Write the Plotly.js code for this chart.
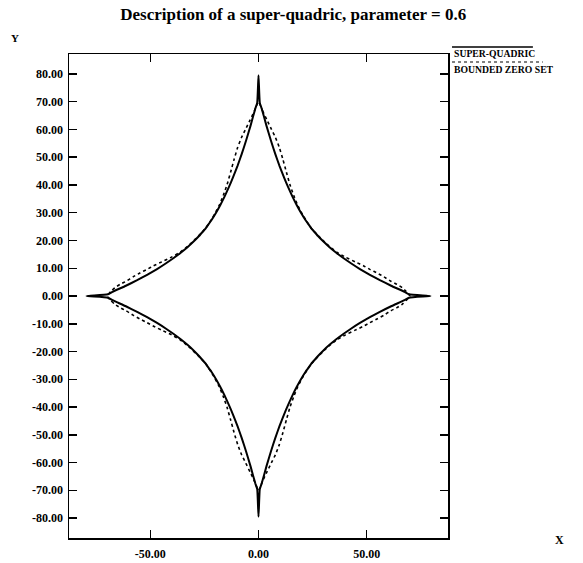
<!DOCTYPE html>
<html>
<head>
<meta charset="utf-8">
<script src="https://cdn.plot.ly/plotly-3.0.1.min.js"></script>
<style>
  html, body { margin: 0; padding: 0; background: #ffffff; }
  #chart { width: 583px; height: 563px; }
</style>
</head>
<body>
<div id="chart"></div>
<script>
// ---- Data ----
// Super-quadric (solid), traced clockwise starting at the top spike
const superX = [
  0, 0.6, 1.5, 3.7, 5.7, 7.7, 9.7, 11.7, 13.7, 15.7, 17.7, 19.7, 21.7, 23.7, 24.4,
  25.2, 27.4, 29.9, 32.7, 35.8, 39.2, 42.9, 46.9, 51.3, 56.1, 61.3, 67.5, 69.6, 79.5,
  69.6, 67.5, 61.3, 56.1, 51.3, 46.9, 42.9, 39.2, 35.8, 32.7, 29.9, 27.4, 25.2,
  24.4, 23.7, 21.7, 19.7, 17.7, 15.7, 13.7, 11.7, 9.7, 7.7, 5.7, 3.7, 1.5, 0.6, 0,
  -0.6, -1.5, -3.7, -5.7, -7.7, -9.7, -11.7, -13.7, -15.7, -17.7, -19.7, -21.7, -23.7, -24.4,
  -25.2, -27.4, -29.9, -32.7, -35.8, -39.2, -42.9, -46.9, -51.3, -56.1, -61.3, -67.5, -69.6, -79.5,
  -69.6, -67.5, -61.3, -56.1, -51.3, -46.9, -42.9, -39.2, -35.8, -32.7, -29.9, -27.4, -25.2,
  -24.4, -23.7, -21.7, -19.7, -17.7, -15.7, -13.7, -11.7, -9.7, -7.7, -5.7, -3.7, -1.5, -0.6, 0
];
const superY = [
  79.5, 69.6, 67.5, 61.3, 56.1, 51.3, 46.9, 42.9, 39.2, 35.8, 32.7, 29.9, 27.4, 25.2, 24.4,
  23.7, 21.7, 19.7, 17.7, 15.7, 13.7, 11.7, 9.7, 7.7, 5.7, 3.7, 1.5, 0.6, 0,
  -0.6, -1.5, -3.7, -5.7, -7.7, -9.7, -11.7, -13.7, -15.7, -17.7, -19.7, -21.7, -23.7,
  -24.4, -25.2, -27.4, -29.9, -32.7, -35.8, -39.2, -42.9, -46.9, -51.3, -56.1, -61.3, -67.5, -69.6, -79.5,
  -69.6, -67.5, -61.3, -56.1, -51.3, -46.9, -42.9, -39.2, -35.8, -32.7, -29.9, -27.4, -25.2, -24.4,
  -23.7, -21.7, -19.7, -17.7, -15.7, -13.7, -11.7, -9.7, -7.7, -5.7, -3.7, -1.5, -0.6, 0,
  0.6, 1.5, 3.7, 5.7, 7.7, 9.7, 11.7, 13.7, 15.7, 17.7, 19.7, 21.7, 23.7,
  24.4, 25.2, 27.4, 29.9, 32.7, 35.8, 39.2, 42.9, 46.9, 51.3, 56.1, 61.3, 67.5, 69.6, 79.5
];

// Bounded zero set (dotted), traced clockwise starting at the top
const zeroX = [
  0, 1.9, 3.9, 5.9, 7.8, 9.6, 11.3, 12.9, 14.5, 16.3, 18.2, 20.2, 22.3, 24.4,
  26.9, 29.6, 32.6, 36.2, 40.2, 44.7, 48.5, 51.5, 55.0, 58.0, 61.2, 64.0, 66.4, 68.3, 70.0,
  68.3, 66.4, 64.0, 61.2, 58.0, 55.0, 51.5, 48.5, 44.7, 40.2, 36.2, 32.6, 29.6, 26.9,
  24.4, 22.3, 20.2, 18.2, 16.3, 14.5, 12.9, 11.3, 9.6, 7.8, 5.9, 3.9, 1.9, 0,
  -1.9, -3.9, -5.9, -7.8, -9.6, -11.3, -12.9, -14.5, -16.3, -18.2, -20.2, -22.3, -24.4,
  -26.9, -29.6, -32.6, -36.2, -40.2, -44.7, -48.5, -51.5, -55.0, -58.0, -61.2, -64.0, -66.4, -68.3, -70.0,
  -68.3, -66.4, -64.0, -61.2, -58.0, -55.0, -51.5, -48.5, -44.7, -40.2, -36.2, -32.6, -29.6, -26.9,
  -24.4, -22.3, -20.2, -18.2, -16.3, -14.5, -12.9, -11.3, -9.6, -7.8, -5.9, -3.9, -1.9, 0
];
const zeroY = [
  70.0, 66.7, 63.4, 60.2, 57.2, 53.6, 49.2, 44.6, 40.2, 36.2, 32.6, 29.6, 26.9, 24.4,
  22.3, 20.2, 18.0, 15.8, 14.0, 12.3, 10.9, 9.6, 8.2, 6.9, 5.3, 4.2, 3.0, 1.6, 0,
  -1.6, -3.0, -4.2, -5.3, -6.9, -8.2, -9.6, -10.9, -12.3, -14.0, -15.8, -18.0, -20.2, -22.3,
  -24.4, -26.9, -29.6, -32.6, -36.2, -40.2, -44.6, -49.2, -53.6, -57.2, -60.2, -63.4, -66.7, -70.0,
  -66.7, -63.4, -60.2, -57.2, -53.6, -49.2, -44.6, -40.2, -36.2, -32.6, -29.6, -26.9, -24.4,
  -22.3, -20.2, -18.0, -15.8, -14.0, -12.3, -10.9, -9.6, -8.2, -6.9, -5.3, -4.2, -3.0, -1.6, 0,
  1.6, 3.0, 4.2, 5.3, 6.9, 8.2, 9.6, 10.9, 12.3, 14.0, 15.8, 18.0, 20.2, 22.3,
  24.4, 26.9, 29.6, 32.6, 36.2, 40.2, 44.6, 49.2, 53.6, 57.2, 60.2, 63.4, 66.7, 70.0
];

// Tick labels
const xTickVals = [-50, 0, 50];
const xTickText = ["-50.00", "0.00", "50.00"];
const yTickVals = [80, 70, 60, 50, 40, 30, 20, 10, 0, -10, -20, -30, -40, -50, -60, -70, -80];
const yTickText = ["80.00", "70.00", "60.00", "50.00", "40.00", "30.00", "20.00", "10.00", "0.00",
  "-10.00", "-20.00", "-30.00", "-40.00", "-50.00", "-60.00", "-70.00", "-80.00"];

const legendNames = ["SUPER-QUADRIC", "BOUNDED ZERO SET"];
const titleText = "Description of a super-quadric, parameter = 0.6";

// ---- Plot ----
const serif = "Liberation Serif, Times New Roman, serif";
const traces = [
  { x: superX, y: superY, type: "scatter", mode: "lines", name: legendNames[0],
    line: { color: "#000000", width: 2, dash: "solid", shape: "spline", smoothing: 0.4 }, hoverinfo: "skip" },
  { x: zeroX, y: zeroY, type: "scatter", mode: "lines", name: legendNames[1],
    line: { color: "#000000", width: 1.6, dash: "dot", shape: "spline", smoothing: 0.4 }, hoverinfo: "skip" }
];

const axisCommon = {
  showgrid: false, zeroline: false, showline: true, linecolor: "#000000", linewidth: 1.5,
  mirror: "ticks", ticks: "inside", ticklen: 8, tickwidth: 1.5, tickcolor: "#000000",
  tickfont: { family: serif, size: 12, color: "#000000", weight: "bold" },
  tickmode: "array"
};

const layout = {
  width: 583, height: 563,
  paper_bgcolor: "#ffffff", plot_bgcolor: "#ffffff",
  margin: { l: 69, r: 135, t: 54, b: 25, pad: 0 },
  showlegend: false,
  title: { text: titleText, font: { family: serif, size: 17, color: "#000000", weight: "bold" },
    xref: "container", x: 0.503, xanchor: "center", yref: "container", y: 0.975, yanchor: "middle" },
  xaxis: Object.assign({}, axisCommon, { range: [-87.6, 87.6], tickvals: xTickVals, ticktext: xTickText,
    ticklabelstandoff: 4 }),
  yaxis: Object.assign({}, axisCommon, { range: [-87.2, 87.2], tickvals: yTickVals, ticktext: yTickText,
    ticklabelstandoff: 2 }),
  annotations: [
    { text: "Y", xref: "paper", yref: "paper", x: -0.1425, y: 1.033, showarrow: false,
      xanchor: "center", yanchor: "middle", font: { family: serif, size: 11, color: "#000", weight: "bold" } },
    { text: "X", xref: "paper", yref: "paper", x: 1.2955, y: -0.004, showarrow: false,
      xanchor: "center", yanchor: "middle", font: { family: serif, size: 12, color: "#000", weight: "bold" } },
    { text: legendNames[0], xref: "paper", yref: "paper", x: 1.0106, y: 1.002, showarrow: false,
      xanchor: "left", yanchor: "middle", font: { family: serif, size: 9.7, color: "#000", weight: "bold" } },
    { text: legendNames[1], xref: "paper", yref: "paper", x: 1.0106, y: 0.969, showarrow: false,
      xanchor: "left", yanchor: "middle", font: { family: serif, size: 9.7, color: "#000", weight: "bold" } }
  ],
  shapes: [
    { type: "line", xref: "paper", yref: "paper", x0: 1.0106, x1: 1.224, y0: 1.0145, y1: 1.0145,
      line: { color: "#000", width: 1.5 } },
    { type: "line", xref: "paper", yref: "paper", x0: 1.0106, x1: 1.25, y0: 0.9835, y1: 0.9835,
      line: { color: "#000", width: 1.2, dash: "dot" } }
  ]
};

Plotly.newPlot("chart", traces, layout, { staticPlot: true, displayModeBar: false });
</script>
</body>
</html>
